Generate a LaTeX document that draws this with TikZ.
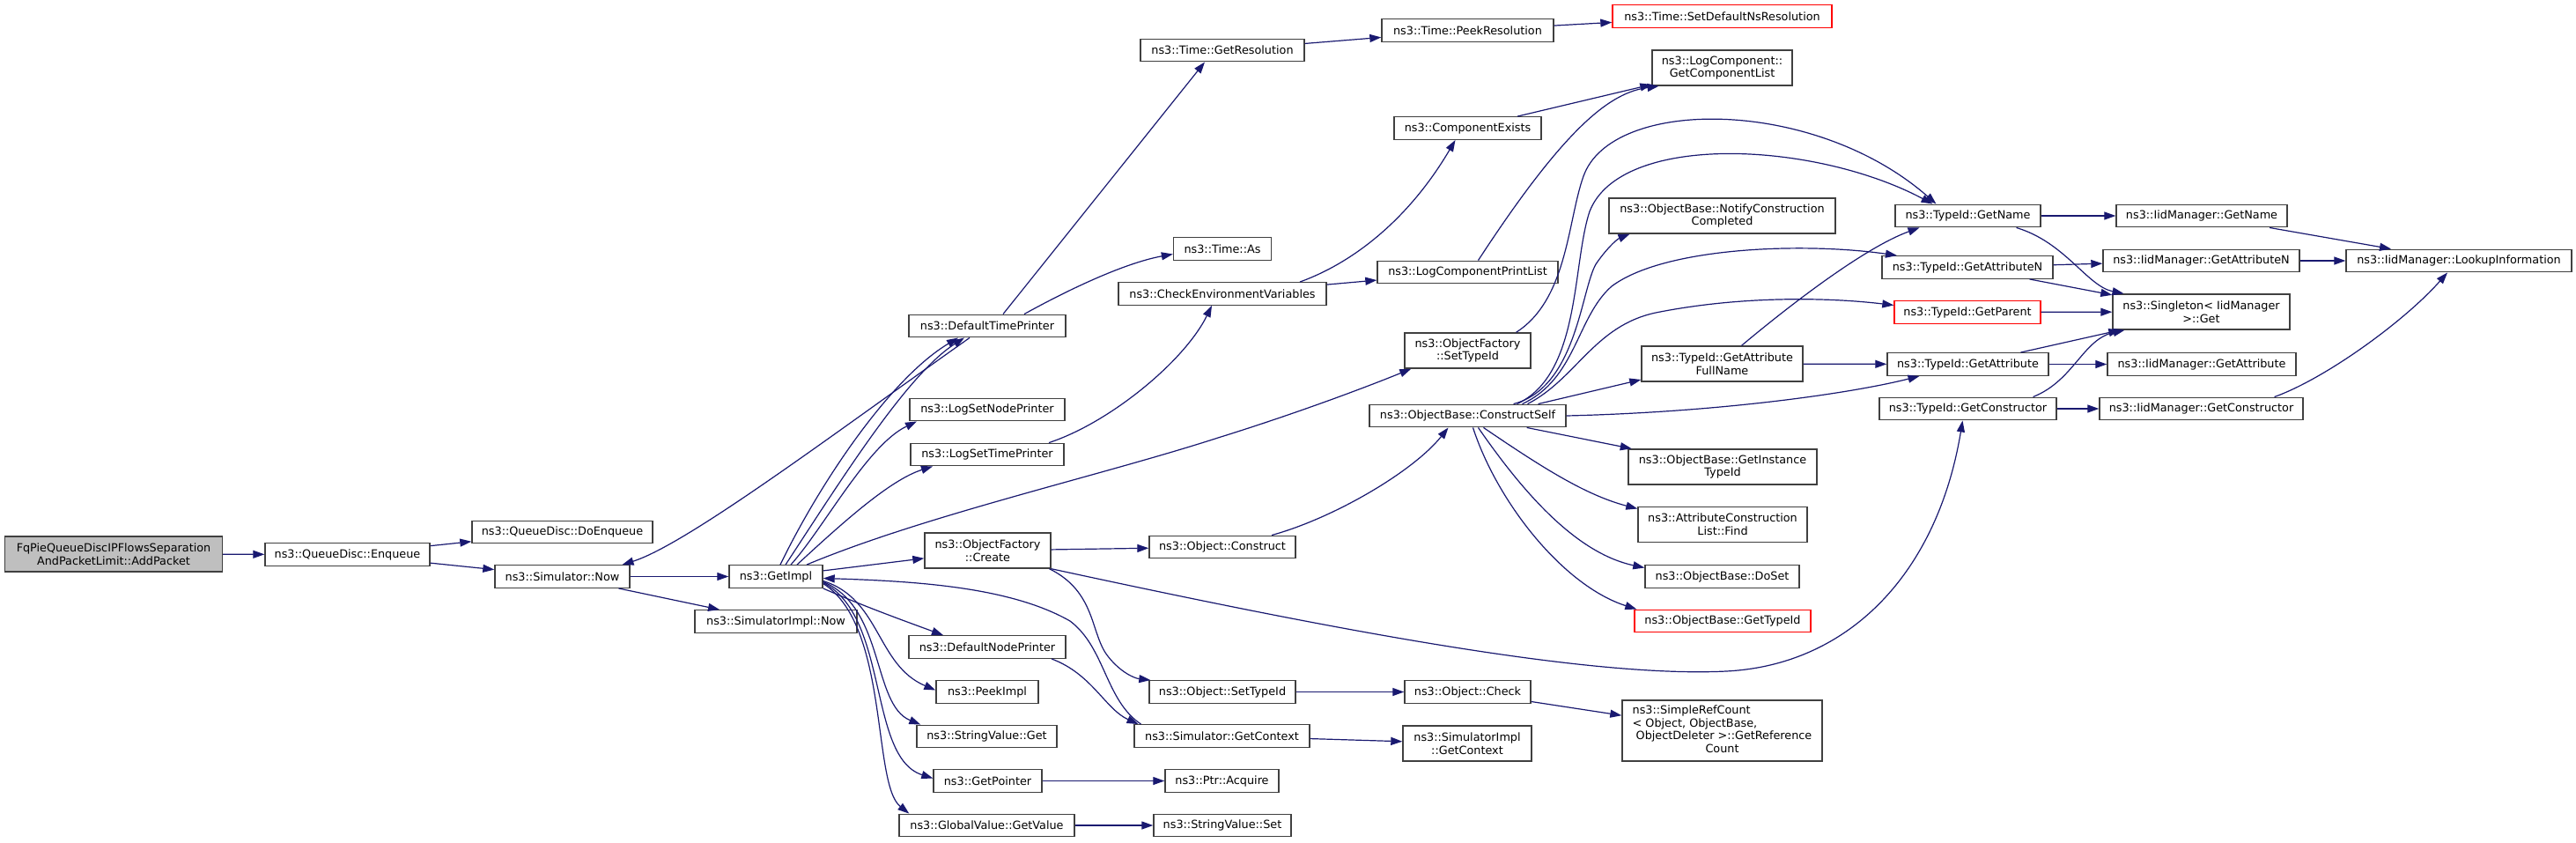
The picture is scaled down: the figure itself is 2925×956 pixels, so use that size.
\documentclass[tikz,border=0pt]{standalone}
\usepackage{fontspec}
\setmainfont{DejaVu Sans}
\usetikzlibrary{arrows.meta}
\definecolor{edgeblue}{HTML}{191970}
\definecolor{nodeborder}{HTML}{404040}
\definecolor{rootfill}{HTML}{BFBFBF}
\definecolor{trunc}{HTML}{FF0000}
\begin{document}
\begin{tikzpicture}[x=1pt,y=-1pt,
  nd/.style={draw=nodeborder, line width=1.4pt, fill=white, inner sep=0pt, align=center,
    font=\fontsize{12.8}{14.8}\selectfont},
  rootnd/.style={nd, fill=rootfill},
  rednd/.style={nd, draw=trunc},
  sz/.style 2 args={minimum width=#1pt, minimum height=#2pt},
  ed/.style={draw=edgeblue, line width=1.2pt, -{Triangle[length=13pt,width=9pt]}}]
\fill[white] (0,0) rectangle (2925,956);
\useasboundingbox (0,0) rectangle (2925,956);

% rank 0-3
\node[rootnd,sz={247}{40}] (root) at (129,629) {FqPieQueueDiscIPFlowsSeparation\\AndPacketLimit::AddPacket};
\node[nd,sz={187}{25.5}] (enq) at (394.5,629.5) {ns3::QueueDisc::Enqueue};
\node[nd,sz={205}{25.5}] (doenq) at (638.5,604) {ns3::QueueDisc::DoEnqueue};
\node[nd,sz={153}{25.5}] (now) at (638.5,654.5) {ns3::Simulator::Now};
\node[nd,sz={106}{25.5}] (getimpl) at (881,654.5) {ns3::GetImpl};
\node[nd,sz={184}{25.5}] (simimplnow) at (881,705.5) {ns3::SimulatorImpl::Now};
% rank 4
\node[nd,sz={178}{25.5}] (dtp) at (1121,370) {ns3::DefaultTimePrinter};
\node[nd,sz={176}{25.5}] (lsnp) at (1121,465) {ns3::LogSetNodePrinter};
\node[nd,sz={174}{25.5}] (lstp) at (1121,516) {ns3::LogSetTimePrinter};
\node[nd,sz={143}{40}] (ofcreate) at (1121.5,625) {ns3::ObjectFactory\\::Create};
\node[nd,sz={178}{25.5}] (dnp) at (1121,734.5) {ns3::DefaultNodePrinter};
\node[nd,sz={116}{25.5}] (peekimpl) at (1121,785.5) {ns3::PeekImpl};
\node[nd,sz={159}{25.5}] (svget) at (1120.5,836) {ns3::StringValue::Get};
\node[nd,sz={123}{25.5}] (getptr) at (1121.5,886.5) {ns3::GetPointer};
\node[nd,sz={199}{25.5}] (gvget) at (1120.5,937) {ns3::GlobalValue::GetValue};
% rank 5
\node[nd,sz={186}{25.5}] (getres) at (1388,57) {ns3::Time::GetResolution};
\node[nd,sz={111}{25.5}] (timeas) at (1388,282.5) {ns3::Time::As};
\node[nd,sz={236}{25.5}] (checkenv) at (1388,333.5) {ns3::CheckEnvironmentVariables};
\node[nd,sz={166}{25.5}] (objconstruct) at (1388,621) {ns3::Object::Construct};
\node[nd,sz={166}{25.5}] (objsettypeid) at (1388,785.5) {ns3::Object::SetTypeId};
\node[nd,sz={199}{25.5}] (simgetctx) at (1387.5,835.5) {ns3::Simulator::GetContext};
\node[nd,sz={129}{25.5}] (ptracq) at (1387.5,886.5) {ns3::Ptr::Acquire};
\node[nd,sz={156}{25.5}] (svset) at (1388,937) {ns3::StringValue::Set};
% rank 6
\node[nd,sz={195}{25.5}] (peekres) at (1666.5,34.5) {ns3::Time::PeekResolution};
\node[nd,sz={167}{25.5}] (compexists) at (1666.5,145.5) {ns3::ComponentExists};
\node[nd,sz={205}{25.5}] (lcpl) at (1666.5,309) {ns3::LogComponentPrintList};
\node[nd,sz={143}{40}] (ofsettypeid) at (1666.5,398) {ns3::ObjectFactory\\::SetTypeId};
\node[nd,sz={223}{25.5}] (constructself) at (1666.5,472) {ns3::ObjectBase::ConstructSelf};
\node[nd,sz={143}{25.5}] (objcheck) at (1666.5,785.5) {ns3::Object::Check};
\node[nd,sz={146}{40}] (simimplgetctx) at (1666,844) {ns3::SimulatorImpl\\::GetContext};
% rank 7
\node[rednd,sz={249}{25.5}] (setdefns) at (1955.5,18.5) {ns3::Time::SetDefaultNsResolution};
\node[nd,sz={159}{40}] (getcomplist) at (1955.5,77) {ns3::LogComponent::\\GetComponentList};
\node[nd,sz={257}{40}] (notify) at (1955.5,245) {ns3::ObjectBase::NotifyConstruction\\Completed};
\node[nd,sz={183}{40}] (fullname) at (1955.5,413) {ns3::TypeId::GetAttribute\\FullName};
\node[nd,sz={214}{40}] (getinsttid) at (1956,530) {ns3::ObjectBase::GetInstance\\TypeId};
\node[nd,sz={192}{40}] (find) at (1956,595.5) {ns3::AttributeConstruction\\List::Find};
\node[nd,sz={175}{25.5}] (doset) at (1955.5,654.5) {ns3::ObjectBase::DoSet};
\node[rednd,sz={200}{25.5}] (obgettypeid) at (1956,705) {ns3::ObjectBase::GetTypeId};
\node[nd,sz={227}{69}] (simplerefcount) at (1955.5,829.5) {\begin{tabular}{@{}l@{}}ns3::SimpleRefCount\\< Object, ObjectBase,\\\hspace*{4pt}ObjectDeleter >::GetReference\\\multicolumn{1}{@{}c@{}}{Count}\end{tabular}};
% rank 8
\node[nd,sz={165}{25.5}] (tidgetname) at (2234.5,245) {ns3::TypeId::GetName};
\node[nd,sz={194}{25.5}] (tidgetattrn) at (2234,303.5) {ns3::TypeId::GetAttributeN};
\node[rednd,sz={166}{25.5}] (tidgetparent) at (2234,354.5) {ns3::TypeId::GetParent};
\node[nd,sz={183}{25.5}] (tidgetattr) at (2234.5,413.5) {ns3::TypeId::GetAttribute};
\node[nd,sz={201}{25.5}] (tidgetctor) at (2234.5,464) {ns3::TypeId::GetConstructor};
% rank 9
\node[nd,sz={194}{25.5}] (iidgetname) at (2500,245) {ns3::IidManager::GetName};
\node[nd,sz={223}{25.5}] (iidgetattrn) at (2499.5,296) {ns3::IidManager::GetAttributeN};
\node[nd,sz={201}{40}] (singleton) at (2499.5,354) {ns3::Singleton< IidManager\\ >::Get};
\node[nd,sz={214}{25.5}] (iidgetattr) at (2500,413.5) {ns3::IidManager::GetAttribute};
\node[nd,sz={231}{25.5}] (iidgetctor) at (2499.5,464) {ns3::IidManager::GetConstructor};
% rank 10
\node[nd,sz={256}{25.5}] (lookup) at (2792,296) {ns3::IidManager::LookupInformation};

% edges
\draw[ed] (root) -- (enq);
\draw[ed] (enq) -- (doenq);
\draw[ed] (enq) -- (now);
\draw[ed] (now) -- (getimpl);
\draw[ed] (now) -- (simimplnow);

\draw[ed] ([xshift=5pt]getimpl.north) .. controls (930,550) and (1010,430) .. ([xshift=-33pt]dtp.south);
\draw[ed] ([xshift=11pt]getimpl.north) .. controls (955,545) and (1030,425) .. ([xshift=-26pt]dtp.south);
\draw[ed] ([xshift=17pt]getimpl.north) .. controls (935,600) and (985,505) .. ([xshift=-80pt]lsnp.south);
\draw[ed] ([xshift=24pt]getimpl.north) .. controls (955,595) and (1010,545) .. ([xshift=-62pt]lstp.south);
\draw[ed] ([xshift=35pt]getimpl.north) .. controls (1050,585) and (1250,540) .. (1383,497) .. controls (1470,470) and (1550,440) .. ([xshift=8pt]ofsettypeid.south west);
\draw[ed] (getimpl) -- (ofcreate);
\draw[ed] (getimpl.south east) .. controls (980,688) and (1030,706) .. ([xshift=-50pt]dnp.north);
\draw[ed] ([yshift=-5pt]getimpl.east) .. controls (1000,680) and (995,755) .. ([yshift=2pt]peekimpl.west);
\draw[ed] ([yshift=-6pt]getimpl.east) .. controls (1005,690) and (990,800) .. ([xshift=5pt]svget.north west);
\draw[ed] ([yshift=-7pt]getimpl.east) .. controls (1010,700) and (985,860) .. ([yshift=3pt]getptr.west);
\draw[ed] ([yshift=-8pt]getimpl.east) .. controls (1010,710) and (990,890) .. ([xshift=12pt]gvget.north west);

\draw[ed] ([xshift=-20pt]dtp.south) .. controls (950,490) and (780,618) .. ([xshift=68pt]now.north);
\draw[ed] ([xshift=18pt]dtp.north) -- ([xshift=-20pt]getres.south);
\draw[ed] ([xshift=42pt]dtp.north) .. controls (1220,325) and (1280,298) .. ([yshift=-6pt]timeas.west);
\draw[ed] (getres) -- (peekres);
\draw[ed] (peekres) -- (setdefns);

\draw[ed] ([xshift=70pt]lstp.north) .. controls (1260,480) and (1345,410) .. ([xshift=-12pt]checkenv.south);
\draw[ed] ([xshift=88pt]checkenv.north) .. controls (1545,295) and (1605,240) .. ([xshift=-14pt]compexists.south);
\draw[ed] (checkenv) -- (lcpl);
\draw[ed] (compexists) -- (getcomplist);
\draw[ed] ([xshift=12pt]lcpl.north) .. controls (1780,140) and (1830,105) .. ([xshift=-72pt]getcomplist.south);

\draw[ed] (ofcreate) -- (objconstruct);
\draw[ed] ([xshift=70pt]ofcreate.south) .. controls (1245,672) and (1238,720) .. (1258,745) .. controls (1272,763) and (1288,770) .. ([xshift=2pt]objsettypeid.north west);
\draw[ed] (ofcreate.south east) .. controls (1500,712) and (1800,770) .. (1960,762) .. controls (2100,755) and (2200,650) .. ([xshift=-6pt]tidgetctor.south);

\draw[ed] ([xshift=73pt]dnp.south) .. controls (1240,765) and (1255,805) .. ([xshift=-95pt]simgetctx.north);
\draw[ed] ([xshift=-92pt]simgetctx.north) .. controls (1255,795) and (1255,735) .. (1215,705) .. controls (1150,668) and (1050,660) .. ([yshift=-2pt]getimpl.east);
\draw[ed] (simgetctx) -- (simimplgetctx);
\draw[ed] (objsettypeid) -- (objcheck);
\draw[ed] (objcheck) -- (simplerefcount);
\draw[ed] (getptr) -- (ptracq);
\draw[ed] (gvget) -- (svset);

\draw[ed] ([xshift=56pt]objconstruct.north) .. controls (1515,588) and (1605,535) .. ([xshift=-22pt]constructself.south);

\draw[ed] ([xshift=52pt]constructself.north) .. controls (1790,440) and (1795,330) .. (1812,300) .. controls (1822,285) and (1835,272) .. ([xshift=-105pt]notify.south);
\draw[ed] ([xshift=56pt]constructself.north) .. controls (1795,425) and (1785,300) .. (1805,240) .. controls (1840,150) and (2060,160) .. ([xshift=-40pt]tidgetname.north);
\draw[ed] ([xshift=55pt]ofsettypeid.north) .. controls (1780,340) and (1780,250) .. (1798,200) .. controls (1830,110) and (2060,110) .. ([xshift=-36pt]tidgetname.north);
\draw[ed] ([xshift=62pt]constructself.north) .. controls (1790,430) and (1790,360) .. (1830,325) .. controls (1890,280) and (2050,275) .. ([xshift=-80pt]tidgetattrn.north);
\draw[ed] ([xshift=68pt]constructself.north) .. controls (1790,430) and (1810,370) .. (1880,355) .. controls (1980,335) and (2080,338) .. ([yshift=8pt]tidgetparent.west);
\draw[ed] ([xshift=80pt]constructself.north) -- ([yshift=-18pt]fullname.west);
\draw[ed] (constructself.east) .. controls (1950,468) and (2100,447) .. ([xshift=-55pt]tidgetattr.south);
\draw[ed] (constructself) -- (getinsttid);
\draw[ed] ([xshift=18pt]constructself.south) .. controls (1750,530) and (1800,562) .. ([yshift=18pt]find.west);
\draw[ed] ([xshift=12pt]constructself.south) .. controls (1730,560) and (1790,628) .. ([yshift=10pt]doset.west);
\draw[ed] ([xshift=6pt]constructself.south) .. controls (1700,570) and (1775,665) .. ([xshift=3pt]obgettypeid.north west);

\draw[ed] ([xshift=22pt]fullname.north) .. controls (2040,340) and (2120,280) .. ([xshift=-55pt]tidgetname.south);
\draw[ed] (fullname) -- (tidgetattr);

\draw[ed] (tidgetname) -- (iidgetname);
\draw[ed] ([xshift=55pt]tidgetname.south) .. controls (2345,275) and (2370,325) .. ([xshift=-88pt]singleton.north);
\draw[ed] (tidgetattrn) -- (iidgetattrn);
\draw[ed] (tidgetattrn) -- (singleton);
\draw[ed] (tidgetparent) -- (singleton);
\draw[ed] (tidgetattr) -- (singleton);
\draw[ed] (tidgetattr) -- (iidgetattr);
\draw[ed] ([xshift=74pt]tidgetctor.north) .. controls (2355,432) and (2365,385) .. ([xshift=-87pt]singleton.south);
\draw[ed] (tidgetctor) -- (iidgetctor);
\draw[ed] (iidgetname) -- (lookup);
\draw[ed] (iidgetattrn) -- (lookup);
\draw[ed] ([xshift=83pt]iidgetctor.north) .. controls (2640,430) and (2730,365) .. ([xshift=-13pt]lookup.south);
\end{tikzpicture}
\end{document}
